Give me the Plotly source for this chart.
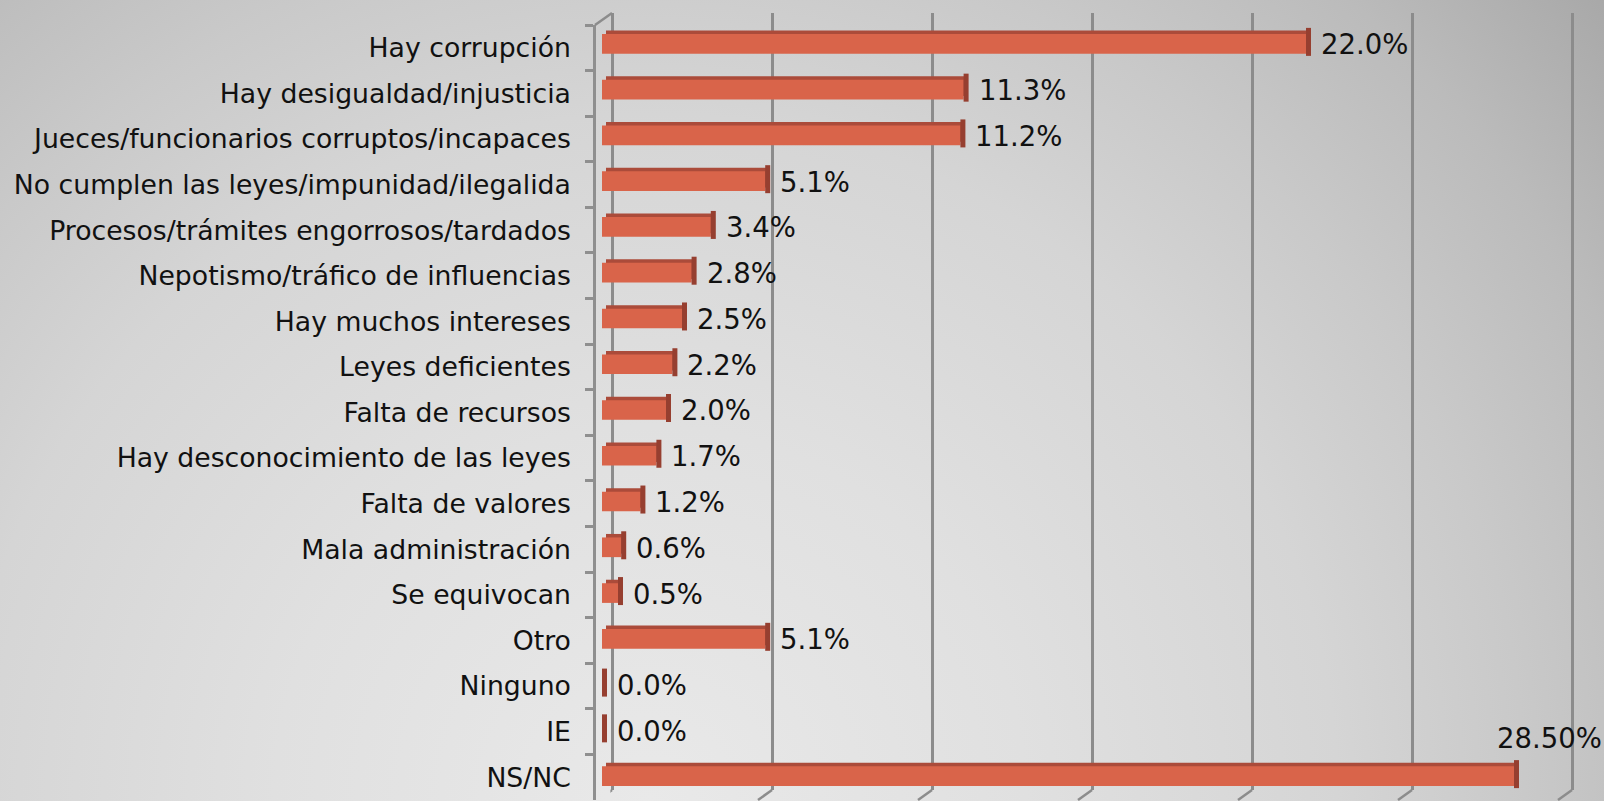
import plotly.graph_objects as go

# data
categories = ["Hay corrupción", "Hay desigualdad/injusticia",
              "Jueces/funcionarios corruptos/incapaces",
              "No cumplen las leyes/impunidad/ilegalida",
              "Procesos/trámites engorrosos/tardados",
              "Nepotismo/tráfico de influencias", "Hay muchos intereses",
              "Leyes deficientes", "Falta de recursos",
              "Hay desconocimiento de las leyes", "Falta de valores",
              "Mala administración", "Se equivocan", "Otro", "Ninguno", "IE",
              "NS/NC"]
values = [22.0, 11.3, 11.2, 5.1, 3.4, 2.8, 2.5, 2.2, 2.0, 1.7, 1.2, 0.6, 0.5,
          5.1, 0.0, 0.0, 28.5]
value_labels = ["22.0%", "11.3%", "11.2%", "5.1%", "3.4%", "2.8%", "2.5%",
                "2.2%", "2.0%", "1.7%", "1.2%", "0.6%", "0.5%", "5.1%", "0.0%",
                "0.0%", "28.50%"]
grid_ticks = [0, 5, 10, 15, 20, 25, 30]

W, H = 1604, 801
FONT = "DejaVu Sans"
n = len(categories)
cat_range = [n - 0.5, -0.5]  # first category on top


def px_x(a, b):
    return [a / W, b / W]


def px_y(top, bottom):
    # pixel rows (from top) -> paper domain
    return [(H - bottom) / H, (H - top) / H]


fig = go.Figure()

# background gradient (subplot xy, drawn first)
cx, cy, r = 650, 0, 1250
fig.add_trace(go.Scatter(
    x=[cx - r, cx + r, cx + r, cx - r, cx - r],
    y=[cy - r, cy - r, cy + r, cy + r, cy - r],
    fill="toself", mode="lines", line=dict(width=0),
    fillgradient=dict(type="radial", colorscale=[
        [0.0, "#e9e9e9"], [0.3, "#e0e0e0"], [0.55, "#d5d5d5"],
        [0.7, "#c9c9c9"], [0.85, "#bbbbbb"], [1.0, "#a8a8a8"]]),
    hoverinfo="skip", showlegend=False, xaxis="x", yaxis="y"))

# back wall gridlines subplot
fig.add_trace(go.Scatter(x=[0], y=[0], mode="markers", marker=dict(opacity=0),
                         hoverinfo="skip", showlegend=False,
                         xaxis="x2", yaxis="y2"))

# bar depth (top face)
fig.add_trace(go.Bar(x=values, y=categories, orientation="h", width=0.43,
                     marker=dict(color="#ab4b3a", line=dict(width=0)),
                     hoverinfo="skip", showlegend=False,
                     xaxis="x3", yaxis="y3"))

# bar end faces (also the only visible part of the 0 % bars)
fig.add_trace(go.Scatter(x=values, y=categories, mode="markers",
                         marker=dict(symbol="line-ns", size=20,
                                     line=dict(width=5, color="#963f30")),
                         cliponaxis=False,
                         hoverinfo="skip", showlegend=False,
                         xaxis="x6", yaxis="y6"))

# bar front faces
fig.add_trace(go.Bar(x=values, y=categories, orientation="h", width=0.43,
                     marker=dict(color="#d9644a", line=dict(width=0)),
                     showlegend=False, xaxis="x4", yaxis="y4"))

# front category axis with labels
fig.add_trace(go.Scatter(x=[0] * n, y=categories, mode="markers",
                         marker=dict(opacity=0, size=1), hoverinfo="skip",
                         showlegend=False, xaxis="x5", yaxis="y5"))

hidden = dict(visible=False, fixedrange=True)
cat_axis = dict(type="category", categoryorder="array",
                categoryarray=categories, range=cat_range, autorange=False)
bar_top, bar_bottom = 21, 799
fig.update_layout(
    width=W, height=H,
    margin=dict(l=0, r=0, t=0, b=0),
    paper_bgcolor="#cfcfcf", plot_bgcolor="rgba(0,0,0,0)",
    font=dict(family=FONT, color="#111111"),
    xaxis=dict(domain=[0, 1], range=[0, W], **hidden),
    yaxis=dict(domain=[0, 1], range=[0, H], **hidden),
    xaxis2=dict(domain=px_x(612 - 1.6, 1572 + 1.6), range=[-0.05, 30.05],
                anchor="y2", showgrid=True, gridcolor="#8c8c8c", gridwidth=2.5,
                tickvals=grid_ticks, showticklabels=False, zeroline=False,
                showline=False, ticks="", fixedrange=True),
    yaxis2=dict(domain=px_y(13, 790), range=[0, 1], anchor="x2", **hidden),
    xaxis3=dict(domain=px_x(606, 1566), range=[0, 30], anchor="y3", **hidden),
    yaxis3=dict(domain=px_y(bar_top - 3.5, bar_bottom - 3.5), anchor="x3",
                **cat_axis, **hidden),
    xaxis6=dict(domain=px_x(604.5, 1564.5), range=[0, 30], anchor="y6",
                **hidden),
    yaxis6=dict(domain=px_y(bar_top - 2, bar_bottom - 2), anchor="x6",
                **cat_axis, **hidden),
    xaxis4=dict(domain=px_x(602, 1562), range=[0, 30], anchor="y4", **hidden),
    yaxis4=dict(domain=px_y(bar_top, bar_bottom), anchor="x4",
                **cat_axis, **hidden),
    xaxis5=dict(domain=px_x(596, 1562), range=[0, 1], anchor="y5", **hidden),
    yaxis5=dict(domain=px_y(25, 800), anchor="x5", **cat_axis,
                showline=True, linecolor="#8f8f8f",
                linewidth=2.5, ticks="outside", ticklen=8, tickwidth=2.5,
                tickcolor="#8f8f8f", tickson="boundaries", showgrid=False,
                zeroline=False, ticklabelstandoff=17,
                tickfont=dict(family=FONT, size=26.7, color="#111111"),
                fixedrange=True),
)

# perspective edges of the floor and wall
edge = dict(color="#8c8c8c", width=2.5)
shapes = []
for v in grid_ticks:
    shapes.append(dict(type="line", xref="x2", yref="y2 domain",
                       xsizemode="pixel", xanchor=v, x0=0, x1=-14,
                       ysizemode="pixel", yanchor=0, y0=0, y1=-10,
                       line=edge, layer="above"))
# top edge of the side wall
shapes.append(dict(type="line", xref="paper", yref="paper",
                   x0=595 / W, y0=(H - 25) / H, x1=612 / W, y1=(H - 13) / H,
                   line=edge, layer="above"))
fig.update_layout(shapes=shapes)

# value labels
label_font = dict(family=FONT, size=27.5, color="#111111")
annotations = []
for i, (cat, val, lab) in enumerate(zip(categories, values, value_labels)):
    if i == n - 1:
        # the last label sits above its bar
        annotations.append(dict(x=val, y=cat, xref="x4", yref="y4",
                                text=lab, showarrow=False, xanchor="left",
                                xshift=-19, yshift=38, font=label_font))
    else:
        annotations.append(dict(x=val, y=cat, xref="x4", yref="y4",
                                text=lab, showarrow=False, xanchor="left",
                                xshift=13, yshift=-0.5, font=label_font))
fig.update_layout(annotations=annotations)

fig.write_html("out.html", config={"displayModeBar": False},
               post_script="document.body.style.margin='0';")
